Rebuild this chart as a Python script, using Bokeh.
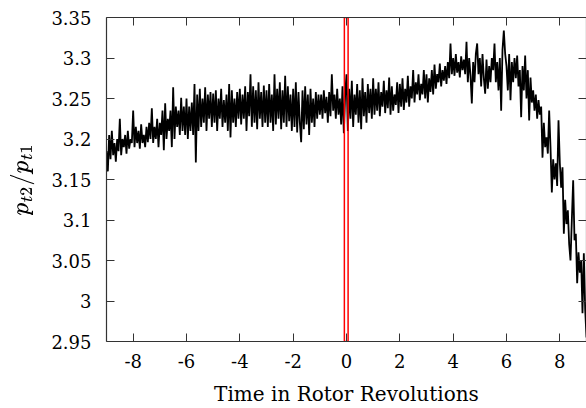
import numpy as np
from bokeh.plotting import figure
from bokeh.models import LinearAxis, FixedTicker, ColumnDataSource
from bokeh.embed import file_html
from bokeh.resources import INLINE

# pressure ratio p_t2/p_t1, sampled every 0.05 rotor revolutions from -9 to 9
ratio = [
    # -9 .. -8
    3.185, 3.16, 3.205, 3.175, 3.21, 3.18, 3.195, 3.172, 3.2, 3.185, 3.225, 3.18, 3.2, 3.19, 3.205, 3.182, 3.21, 3.188, 3.2, 3.195,
    # -8 .. -7
    3.235, 3.19, 3.215, 3.195, 3.21, 3.188, 3.218, 3.195, 3.205, 3.19, 3.215, 3.196, 3.22, 3.2, 3.238, 3.195, 3.215, 3.2, 3.225, 3.19,
    # -7 .. -6
    3.22, 3.205, 3.235, 3.186, 3.244, 3.2, 3.225, 3.21, 3.235, 3.19, 3.264, 3.2, 3.24, 3.215, 3.235, 3.205, 3.251, 3.21, 3.24, 3.205,
    # -6 .. -5
    3.25, 3.2, 3.24, 3.21, 3.245, 3.205, 3.268, 3.171, 3.255, 3.21, 3.262, 3.215, 3.25, 3.22, 3.264, 3.21, 3.255, 3.225, 3.258, 3.215,
    # -5 .. -4
    3.256, 3.22, 3.26, 3.21, 3.25, 3.225, 3.262, 3.215, 3.248, 3.22, 3.255, 3.21, 3.268, 3.202, 3.26, 3.22, 3.25, 3.215, 3.258, 3.225,
    # -4 .. -3
    3.262, 3.218, 3.255, 3.225, 3.265, 3.21, 3.258, 3.228, 3.28, 3.215, 3.265, 3.22, 3.26, 3.212, 3.27, 3.225, 3.258, 3.215, 3.266, 3.22,
    # -3 .. -2
    3.26, 3.215, 3.268, 3.22, 3.255, 3.21, 3.28, 3.218, 3.262, 3.225, 3.27, 3.212, 3.26, 3.22, 3.278, 3.215, 3.265, 3.222, 3.255, 3.21,
    # -2 .. -1
    3.262, 3.215, 3.27, 3.208, 3.258, 3.22, 3.196, 3.26, 3.212, 3.265, 3.218, 3.255, 3.205, 3.262, 3.22, 3.25, 3.215, 3.258, 3.225, 3.255,
    # -1 .. 0
    3.23, 3.255, 3.225, 3.26, 3.232, 3.252, 3.22, 3.258, 3.228, 3.28, 3.235, 3.255, 3.225, 3.262, 3.23, 3.25, 3.218, 3.265, 3.207, 3.255,
    # 0 .. 1
    3.28, 3.21, 3.262, 3.225, 3.272, 3.215, 3.255, 3.23, 3.268, 3.22, 3.26, 3.212, 3.275, 3.228, 3.258, 3.22, 3.268, 3.232, 3.262, 3.225,
    # 1 .. 2
    3.275, 3.23, 3.262, 3.235, 3.27, 3.228, 3.258, 3.24, 3.272, 3.232, 3.26, 3.238, 3.276, 3.23, 3.265, 3.235, 3.255, 3.242, 3.27, 3.232,
    # 2 .. 3
    3.268, 3.24, 3.275, 3.236, 3.262, 3.245, 3.278, 3.24, 3.265, 3.25, 3.285, 3.245, 3.27, 3.255, 3.28, 3.248, 3.268, 3.255, 3.285, 3.25,
    # 3 .. 4
    3.28, 3.245, 3.275, 3.258, 3.285, 3.255, 3.292, 3.262, 3.28, 3.27, 3.293, 3.265, 3.285, 3.272, 3.29, 3.268, 3.295, 3.275, 3.318, 3.28,
    # 4 .. 5
    3.3, 3.278, 3.305, 3.282, 3.295, 3.276, 3.302, 3.285, 3.298, 3.28, 3.32, 3.27, 3.3, 3.278, 3.244, 3.295, 3.27, 3.305, 3.318, 3.28,
    # 5 .. 6
    3.3, 3.265, 3.305, 3.275, 3.256, 3.298, 3.262, 3.29, 3.27, 3.3, 3.285, 3.318, 3.27, 3.295, 3.26, 3.3, 3.235, 3.31, 3.334, 3.305,
    # 6 .. 7
    3.29, 3.26, 3.305, 3.248, 3.295, 3.27, 3.3, 3.275, 3.303, 3.265, 3.285, 3.227, 3.29, 3.26, 3.303, 3.25, 3.285, 3.223, 3.276, 3.245,
    # 7 .. 8
    3.26, 3.235, 3.255, 3.225, 3.248, 3.23, 3.24, 3.177, 3.22, 3.19, 3.202, 3.182, 3.235, 3.19, 3.134, 3.175, 3.15, 3.17, 3.142, 3.223,
    # 8 .. 9
    3.17, 3.14, 3.165, 3.083, 3.125, 3.095, 3.112, 3.07, 3.05, 3.1, 3.149, 3.075, 3.083, 3.022, 3.06, 3.035, 3.05, 2.985, 3.059, 2.99, 2.955,
]
t_start, t_end = -9.0, 9.0
time = np.linspace(t_start, t_end, len(ratio))

# marked window around t = 0
window_left, window_right = -0.08, 0.06

x_ticks = [-8, -6, -4, -2, 0, 2, 4, 6, 8]
x_tick_labels = ["-8", "-6", "-4", "-2", "0", "2", "4", "6", "8"]
y_ticks = [2.95, 3.0, 3.05, 3.1, 3.15, 3.2, 3.25, 3.3, 3.35]
y_tick_labels = ["2.95", "3", "3.05", "3.1", "3.15", "3.2", "3.25", "3.3", "3.35"]

FONT = "DejaVu Serif"

p = figure(width=586, height=408, x_range=(-9, 9), y_range=(2.95, 3.35),
           output_backend="svg", toolbar_location=None,
           x_axis_location=None, y_axis_location=None,
           min_border_left=106, min_border_right=0, min_border_top=17, min_border_bottom=67)
p.grid.visible = False
p.outline_line_color = None

src = ColumnDataSource(dict(t=time, r=ratio))
p.line("t", "r", source=src, line_color="black", line_width=1.8)
p.quad(left=[window_left], right=[window_right], bottom=[2.95], top=[3.35],
       fill_color=None, line_color="red", line_width=1.5)

def make_axis(ticks, labels, show_labels):
    ax = LinearAxis(ticker=FixedTicker(ticks=ticks))
    ax.major_tick_in = 8
    ax.major_tick_out = 0
    ax.minor_tick_line_color = None
    ax.axis_line_color = "#333333"
    ax.major_tick_line_color = "#333333"
    ax.axis_line_width = 1.2
    ax.major_label_text_font = FONT
    ax.major_label_text_font_size = "18px"
    if show_labels:
        ax.major_label_overrides = {float(t): l for t, l in zip(ticks, labels)}
        ax.major_label_text_color = "black"
    else:
        ax.major_label_text_color = None
        ax.major_label_standoff = 0
    return ax

bottom = make_axis(x_ticks, x_tick_labels, True)
bottom.major_label_standoff = 12
bottom.axis_label = "Time in Rotor Revolutions"
bottom.axis_label_text_font = FONT
bottom.axis_label_text_font_size = "20px"
bottom.axis_label_text_font_style = "normal"
bottom.axis_label_text_color = "black"
bottom.axis_label_standoff = 11
p.add_layout(bottom, "below")

left = make_axis(y_ticks, y_tick_labels, True)
left.major_label_standoff = 15
left.axis_label = r"$$p_{t2}/p_{t1}$$"
left.axis_label_text_font_size = "21px"
left.axis_label_text_color = "black"
left.axis_label_standoff = 14
p.add_layout(left, "left")

top = make_axis(x_ticks, x_tick_labels, False)
p.add_layout(top, "above")
right = make_axis(y_ticks, y_tick_labels, False)
p.add_layout(right, "right")

open("out.html", "w").write(file_html(p, INLINE))
